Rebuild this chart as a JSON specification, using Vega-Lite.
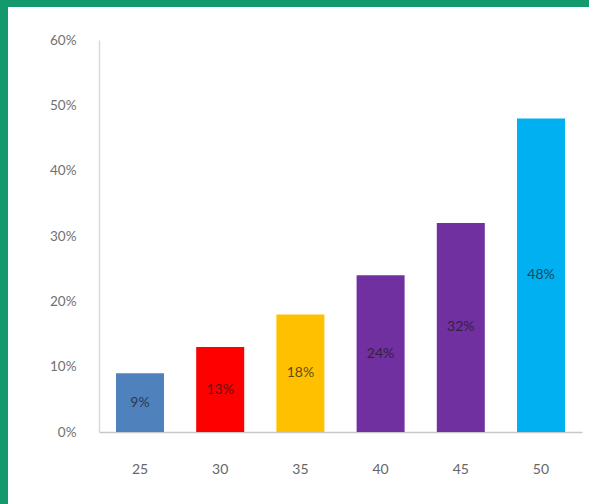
{
  "$schema": "https://vega.github.io/schema/vega-lite/v6.json",
  "width": 581,
  "height": 497,
  "autosize": {"type": "none"},
  "padding": {"left": 8, "top": 7, "right": 0, "bottom": 0},
  "background": "#13996b",
  "config": {"view": {"fill": "white", "stroke": null}},
  "data": {
    "values": [
      {"age": "25", "pct": 0.09},
      {"age": "30", "pct": 0.13},
      {"age": "35", "pct": 0.18},
      {"age": "40", "pct": 0.24},
      {"age": "45", "pct": 0.32},
      {"age": "50", "pct": 0.48}
    ]
  },
  "encoding": {
    "x": {
      "field": "age",
      "type": "nominal",
      "sort": null,
      "scale": {"range": [91, 574], "paddingInner": 0.4015, "paddingOuter": 0.212},
      "axis": {
        "title": null,
        "labelAngle": 0,
        "ticks": false,
        "domainColor": "#c8c8c8",
        "domainWidth": 1.5,
        "offset": -72,
        "labelPadding": 30,
        "labelFont": "Lato",
        "labelFontSize": 14,
        "labelColor": "#666666"
      }
    },
    "y": {
      "field": "pct",
      "type": "quantitative",
      "scale": {"domain": [0, 0.6], "range": [425, 33], "nice": false},
      "axis": {
        "title": null,
        "offset": -91,
        "values": [0, 0.1, 0.2, 0.3, 0.4, 0.5, 0.6],
        "format": ".0%",
        "grid": false,
        "ticks": false,
        "domainColor": "#d9d9d9",
        "domainWidth": 1.5,
        "labelPadding": 23,
        "labelFont": "Lato",
        "labelFontSize": 13.5,
        "labelColor": "#707070"
      }
    }
  },
  "layer": [
    {
      "mark": {"type": "bar"},
      "encoding": {
        "color": {
          "field": "age",
          "type": "nominal",
          "scale": {
            "domain": ["25", "30", "35", "40", "45", "50"],
            "range": ["#4f81bd", "#ff0000", "#ffc000", "#7030a0", "#7030a0", "#00b0f0"]
          },
          "legend": null
        }
      }
    },
    {
      "transform": [{"calculate": "datum.pct / 2", "as": "labelPos"}],
      "mark": {"type": "text", "font": "Lato", "fontSize": 14, "fill": "#1a1a1a", "opacity": 0.7, "baseline": "middle"},
      "encoding": {
        "y": {"field": "labelPos", "type": "quantitative"},
        "text": {"field": "pct", "type": "quantitative", "format": ".0%"}
      }
    }
  ]
}
